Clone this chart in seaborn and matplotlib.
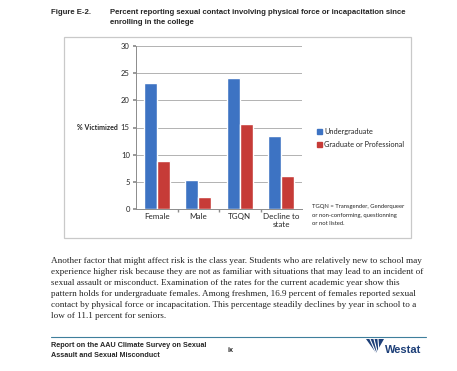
import matplotlib
matplotlib.use('Agg')
import matplotlib.pyplot as plt
import matplotlib.patches as mpatches
import seaborn as sns
import pandas as pd

# chart data
groups = ['Female', 'Male', 'TGQN', 'Decline to\nstate']
undergrad = [23.1, 5.3, 24.1, 13.4]
grad_prof = [8.8, 2.2, 15.6, 6.1]
series_names = ['Undergraduate', 'Graduate or Professional']
y_ticks = [0, 5, 10, 15, 20, 25, 30]

# page text
fig_label = 'Figure E-2.'
title_lines = ['Percent reporting sexual contact involving physical force or incapacitation since',
               'enrolling in the college']
note_lines = ['TGQN = Transgender, Genderqueer',
              'or non-conforming, questionning',
              'or not listed.']
body_lines = [
    'Another factor that might affect risk is the class year. Students who are relatively new to school may',
    'experience higher risk because they are not as familiar with situations that may lead to an incident of',
    'sexual assault or misconduct. Examination of the rates for the current academic year show this',
    'pattern holds for undergraduate females. Among freshmen, 16.9 percent of females reported sexual',
    'contact by physical force or incapacitation. This percentage steadily declines by year in school to a',
    'low of 11.1 percent for seniors.',
]
footer_lines = ['Report on the AAU Climate Survey on Sexual', 'Assault and Sexual Misconduct']

W, H = 457, 371

def px(x, y):
    return x / W, 1 - y / H

sns.set_theme(style='white')
plt.rcParams['font.family'] = ['Lato', 'DejaVu Sans']

fig = plt.figure(figsize=(W / 100, H / 100), dpi=100)
fig.patch.set_facecolor('white')

# chart frame
x0, y0 = px(64, 238)
fig.patches.append(mpatches.Rectangle((x0, y0), (411 - 64) / W, (238 - 37) / H,
                                      transform=fig.transFigure, fill=False,
                                      edgecolor='#c9c9c9', linewidth=0.9))

df = pd.DataFrame({
    'group': groups * 2,
    'pct': undergrad + grad_prof,
    'level': [series_names[0]] * 4 + [series_names[1]] * 4,
})

left, bottom = px(136, 209)
ax = fig.add_axes([left, bottom, (302 - 136) / W, (209 - 46) / H])
sns.barplot(data=df, x='group', y='pct', hue='level',
            palette=['#3d73c3', '#c63b37'], width=0.63, saturation=1,
            ax=ax, zorder=3)

ax.set_ylim(0, 30)
ax.set_yticks(y_ticks)
ax.set_xlim(-0.5, 3.5)
ax.grid(axis='y', color='#a6a6a6', linewidth=0.6, zorder=0)
ax.set_axisbelow(True)
for s in ['top', 'right']:
    ax.spines[s].set_visible(False)
for s in ['left', 'bottom']:
    ax.spines[s].set_color('#8c8c8c')
    ax.spines[s].set_linewidth(0.7)
ax.set_xlabel('')
ax.set_ylabel('')
ax.tick_params(axis='y', labelsize=5.5, pad=2, length=2.5, left=True, color='#8c8c8c')
ax.tick_params(axis='x', labelsize=5.8, pad=3, length=0)
ax.set_xticks([0.5, 1.5, 2.5], minor=True)
ax.tick_params(axis='x', which='minor', bottom=True, length=2.5, color='#8c8c8c')

ax.legend_.remove()
handles = [mpatches.Patch(color=c) for c in ['#3d73c3', '#c63b37']]
fig.legend(handles, series_names, loc='center left', bbox_to_anchor=px(313, 138),
           frameon=False, fontsize=5.3, handlelength=0.75, handleheight=0.75,
           handletextpad=0.3, labelspacing=0.85, borderpad=0)

fig.text(*px(77, 128), '% Victimized', fontsize=5.0, fontweight='bold',
         ha='left', va='center')
for i, line in enumerate(note_lines):
    fig.text(*px(312, 207 + i * 8), line, fontsize=4.2, ha='left', va='center')

# page title
fig.text(*px(51, 12.7), fig_label, fontsize=5.55, fontweight='bold',
         family='Liberation Sans', ha='left', va='center')
for i, line in enumerate(title_lines):
    fig.text(*px(110, 12.7 + i * 10), line, fontsize=5.55, fontweight='bold',
             family='Liberation Sans', ha='left', va='center')

# body paragraph
for i, line in enumerate(body_lines):
    fig.text(*px(51, 260.7 + i * 11), line, fontsize=6.55,
             family='Liberation Serif', color='#222222', ha='left', va='center')

# footer
lx0, ly = px(51, 337)
lx1, _ = px(426, 337)
fig.add_artist(plt.Line2D([lx0, lx1], [ly, ly], transform=fig.transFigure,
                          color='#3f7f9c', linewidth=0.8))
for i, line in enumerate(footer_lines):
    fig.text(*px(51, 345.3 + i * 10.4), line, fontsize=5.2, fontweight='bold',
             family='Liberation Sans', ha='left', va='center')
fig.text(*px(228, 351), 'ix', fontsize=5.2, fontweight='bold',
         family='Liberation Sans', ha='left', va='center')

# Westat logo mark
logo_blue = '#1d3f78'
mark = [px(366, 339), px(384, 339), px(376, 353)]
fig.patches.append(mpatches.Polygon(mark, closed=True, transform=fig.transFigure,
                                    facecolor=logo_blue, edgecolor='none'))
for k in range(3):
    a = px(370 + k * 4, 339)
    b = px(376 + k * 1.5, 353)
    fig.add_artist(plt.Line2D([a[0], b[0]], [a[1], b[1]], transform=fig.transFigure,
                              color='white', linewidth=0.8))
fig.text(*px(385, 350), 'Westat', fontsize=8, fontweight='bold',
         family='Liberation Sans', color=logo_blue, ha='left', va='center')

fig.savefig('out.png', dpi=100)
